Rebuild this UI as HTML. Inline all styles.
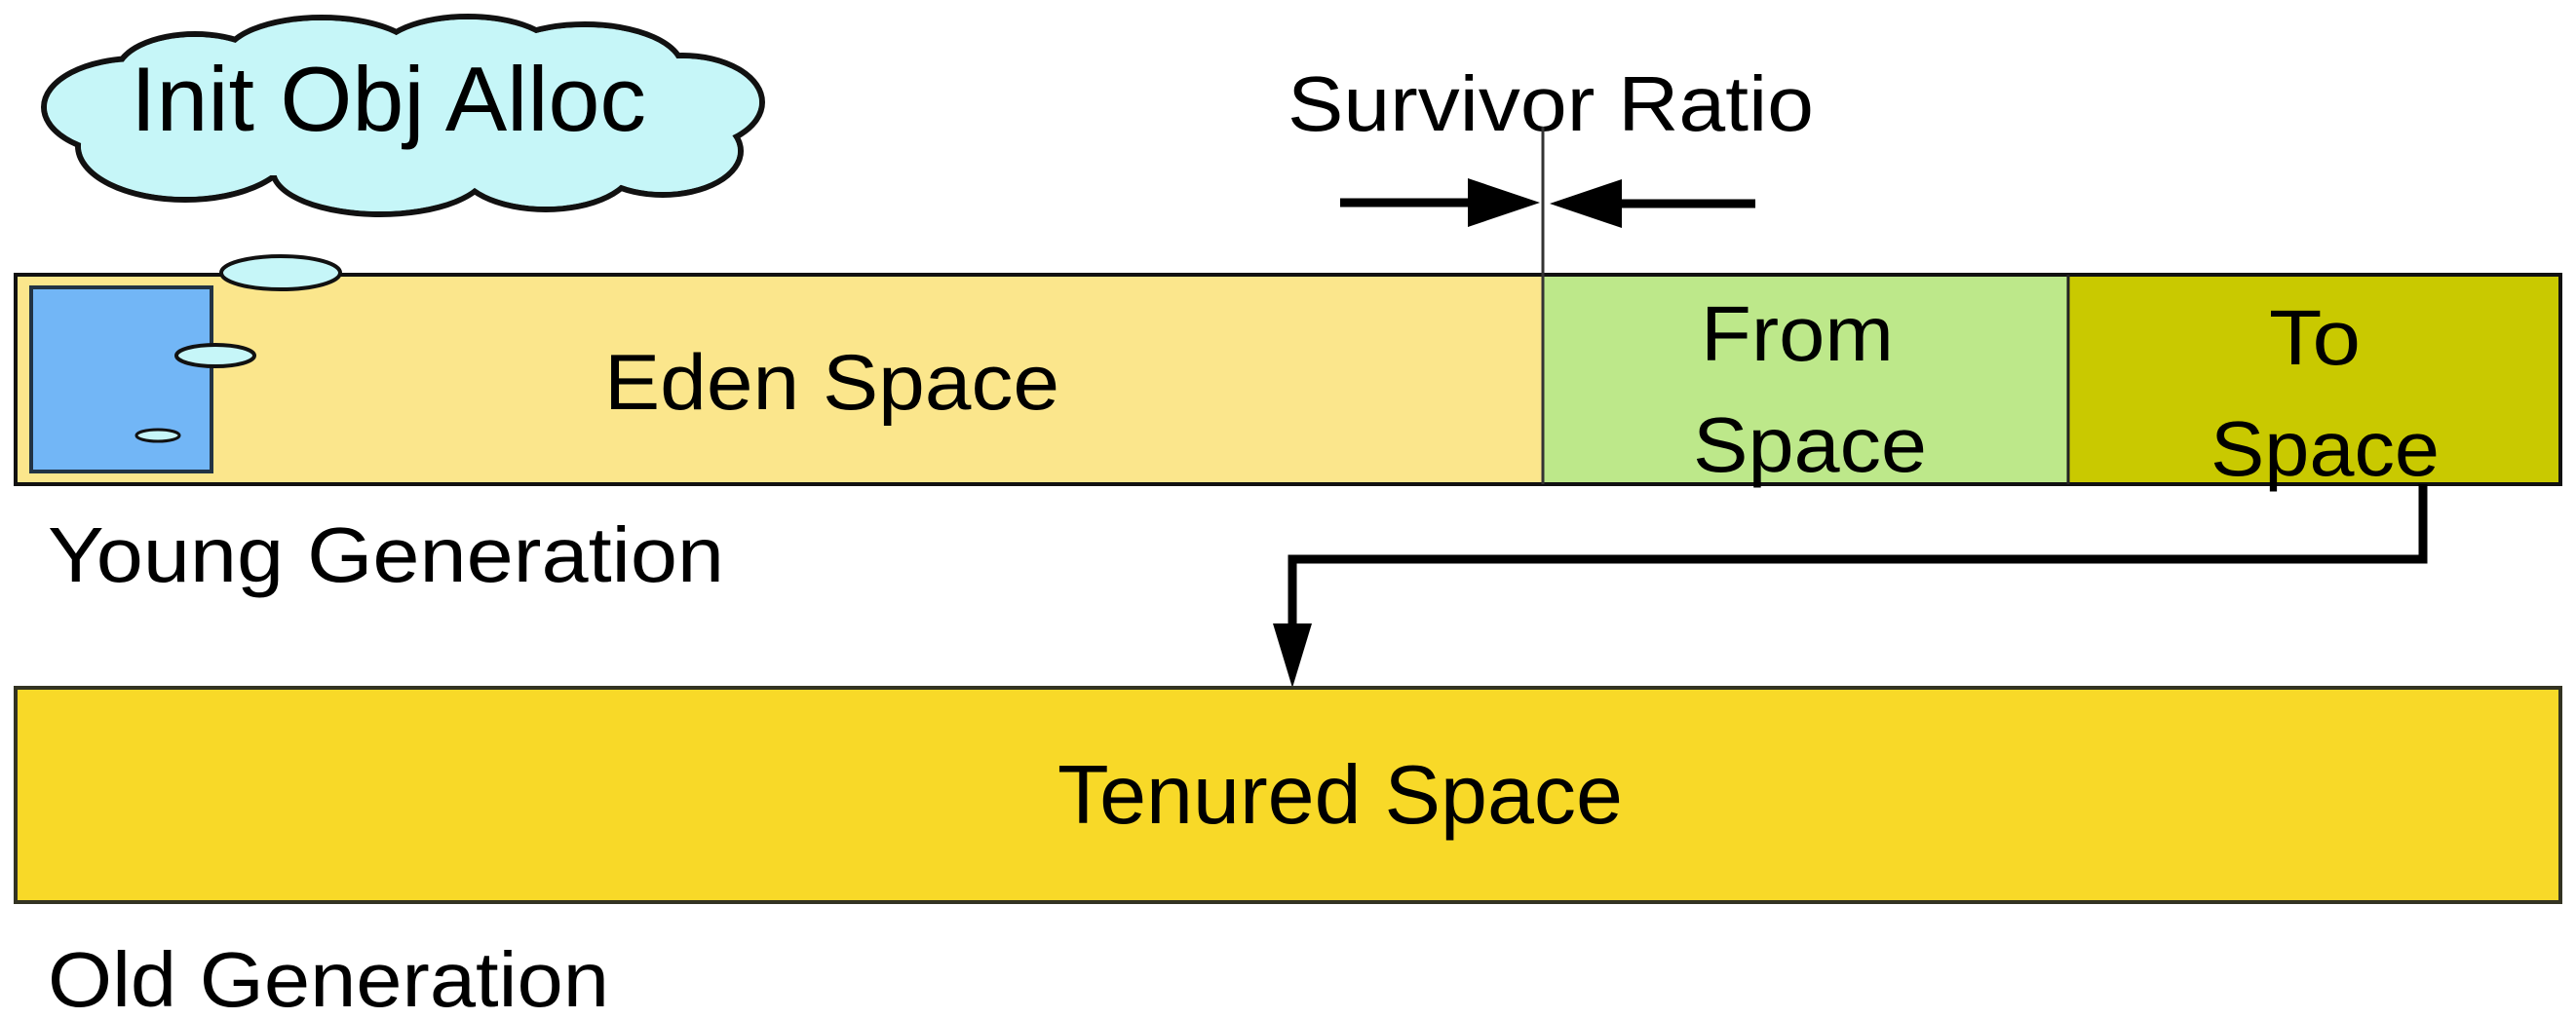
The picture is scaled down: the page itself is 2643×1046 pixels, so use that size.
<!DOCTYPE html>
<html><head><style>html,body{margin:0;padding:0;background:#fff;}svg{display:block}</style></head>
<body>
<svg width="2643" height="1046" viewBox="0 0 2643 1046" xmlns="http://www.w3.org/2000/svg" font-family="'Liberation Sans', Arial, sans-serif" fill="#000">
<!-- cloud -->
<g stroke="#111" stroke-width="6" fill="#c6f6f8">
<ellipse cx="140" cy="110" rx="95" ry="50"/>
<ellipse cx="190" cy="150" rx="110" ry="55"/>
<ellipse cx="200" cy="75" rx="80" ry="40"/>
<ellipse cx="330" cy="60" rx="100" ry="42"/>
<ellipse cx="480" cy="55" rx="90" ry="38"/>
<ellipse cx="600" cy="70" rx="100" ry="45"/>
<ellipse cx="700" cy="105" rx="82" ry="48"/>
<ellipse cx="680" cy="155" rx="80" ry="45"/>
<ellipse cx="560" cy="170" rx="90" ry="45"/>
<ellipse cx="390" cy="175" rx="110" ry="45"/>
</g>
<g fill="#c6f6f8">
<ellipse cx="140" cy="110" rx="92" ry="47"/>
<ellipse cx="190" cy="150" rx="107" ry="52"/>
<ellipse cx="200" cy="75" rx="77" ry="37"/>
<ellipse cx="330" cy="60" rx="97" ry="39"/>
<ellipse cx="480" cy="55" rx="87" ry="35"/>
<ellipse cx="600" cy="70" rx="97" ry="42"/>
<ellipse cx="700" cy="105" rx="79" ry="45"/>
<ellipse cx="680" cy="155" rx="77" ry="42"/>
<ellipse cx="560" cy="170" rx="87" ry="42"/>
<ellipse cx="390" cy="175" rx="107" ry="42"/>
<rect x="120" y="70" width="560" height="110"/>
</g>
<text x="134" y="134" font-size="94" textLength="529" lengthAdjust="spacingAndGlyphs">Init Obj Alloc</text>

<!-- young generation box -->
<rect x="16" y="282" width="1567" height="215" fill="#fbe68c"/>
<rect x="1583" y="282" width="539" height="215" fill="#bde88a"/>
<rect x="2122" y="282" width="505" height="215" fill="#c9c900"/>
<rect x="16" y="282" width="2611" height="215" fill="none" stroke="#111" stroke-width="4"/>
<line x1="2122" y1="282" x2="2122" y2="497" stroke="#222" stroke-width="3"/>
<rect x="32" y="295" width="185" height="189" fill="#72b6f6" stroke="#234" stroke-width="4"/>
<!-- small clouds -->
<ellipse cx="288" cy="280" rx="61" ry="17" fill="#c6f6f8" stroke="#111" stroke-width="4"/>
<ellipse cx="221" cy="365" rx="40" ry="11" fill="#c6f6f8" stroke="#111" stroke-width="4"/>
<ellipse cx="162" cy="447" rx="22" ry="6" fill="#c6f6f8" stroke="#111" stroke-width="3"/>

<text x="620" y="420" font-size="81" textLength="467" lengthAdjust="spacingAndGlyphs">Eden Space</text>
<text x="1745" y="370" font-size="80" textLength="198" lengthAdjust="spacingAndGlyphs">From</text>
<text x="1737" y="484" font-size="80" textLength="240" lengthAdjust="spacingAndGlyphs">Space</text>
<text x="2328" y="374" font-size="80" textLength="94" lengthAdjust="spacingAndGlyphs">To</text>
<text x="2268" y="488" font-size="80" textLength="235" lengthAdjust="spacingAndGlyphs">Space</text>

<!-- survivor ratio -->
<text x="1321" y="134" font-size="80" textLength="540" lengthAdjust="spacingAndGlyphs">Survivor Ratio</text>
<line x1="1583" y1="130" x2="1583" y2="497" stroke="#333" stroke-width="3"/>
<line x1="1375" y1="208" x2="1510" y2="208" stroke="#000" stroke-width="9"/>
<polygon points="1506,183 1580,208 1506,233"/>
<line x1="1660" y1="209" x2="1801" y2="209" stroke="#000" stroke-width="9"/>
<polygon points="1664,184 1590,209 1664,234"/>

<text x="49" y="597" font-size="80" textLength="694" lengthAdjust="spacingAndGlyphs">Young Generation</text>

<!-- connector -->
<polyline points="2486,497 2486,574 1326,574 1326,650" fill="none" stroke="#000" stroke-width="9"/>
<polygon points="1306,640 1346,640 1326,706"/>

<!-- tenured -->
<rect x="16" y="706" width="2611" height="220" fill="#f8d928" stroke="#332" stroke-width="4"/>
<text x="1085" y="845" font-size="85" textLength="580" lengthAdjust="spacingAndGlyphs">Tenured Space</text>

<text x="49" y="1033" font-size="80" textLength="576" lengthAdjust="spacingAndGlyphs">Old Generation</text>
</svg>
</body></html>
